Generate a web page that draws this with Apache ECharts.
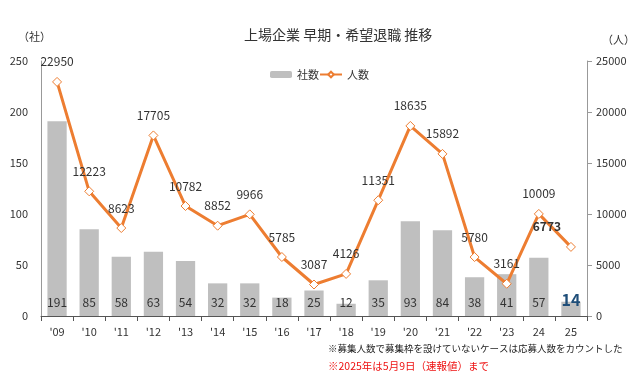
<!DOCTYPE html>
<html>
<head>
<meta charset="utf-8">
<script src="https://cdn.jsdelivr.net/npm/echarts@6/dist/echarts.min.js"></script>
<style>
  html, body { margin: 0; padding: 0; background: #fff; }
  #chart { width: 637px; height: 378px; }
</style>
</head>
<body>
<div id="chart"></div>
<script>
const years = ["'09", "'10", "'11", "'12", "'13", "'14", "'15", "'16", "'17", "'18", "'19", "'20", "'21", "'22", "'23", '24', '25']
const companies = [191, 85, 58, 63, 54, 32, 32, 18, 25, 12, 35, 93, 84, 38, 41, 57, 14]
const people = [22950, 12223, 8623, 17705, 10782, 8852, 9966, 5785, 3087, 4126, 11351, 18635, 15892, 5780, 3161, 10009, 6773]

const font = '"Noto Sans CJK JP", "Noto Sans", sans-serif'
const lastIdx = years.length - 1

const chart = echarts.init(document.getElementById('chart'))

chart.setOption({
  animation: false,
  textStyle: { fontFamily: font },
  title: {
    text: '上場企業 早期・希望退職 推移',
    left: 244,
    top: 28,
    padding: 0,
    textStyle: { fontSize: 14, fontWeight: 'normal', color: '#333', fontFamily: font }
  },
  legend: {
    top: 64,
    left: 265,
    itemWidth: 22,
    itemHeight: 7,
    itemGap: 0,
    textStyle: { fontSize: 11, color: '#333' },
    data: ['社数', '人数']
  },
  grid: { left: 41, right: 50, top: 61, bottom: 62 },
  graphic: [
    { type: 'text', left: 18, top: 31, style: { text: '（社）', fontSize: 11, fill: '#333', fontFamily: font } },
    { type: 'text', left: 602, top: 34, style: { text: '（人）', fontSize: 11, fill: '#333', fontFamily: font } },
    { type: 'text', left: 328, top: 344, style: { text: '※募集人数で募集枠を設けていないケースは応募人数をカウントした', fontSize: 9.5, fill: '#222', fontFamily: font } },
    { type: 'text', left: 328, top: 361, style: { text: '※2025年は5月9日（速報値）まで', fontSize: 10.5, fill: '#ee1111', fontFamily: font } }
  ],
  xAxis: {
    type: 'category',
    data: years,
    axisLine: { lineStyle: { color: '#555' } },
    axisTick: { show: true, length: 5, lineStyle: { color: '#555' } },
    axisLabel: { color: '#333', fontSize: 11, margin: 10 }
  },
  yAxis: [{
    type: 'value',
    min: 0,
    max: 250,
    interval: 50,
    axisLine: { show: true, lineStyle: { color: '#999' } },
    axisTick: { show: false },
    splitLine: { show: false },
    axisLabel: { color: '#333', fontSize: 11, margin: 13 }
  }, {
    type: 'value',
    min: 0,
    max: 25000,
    interval: 5000,
    axisLine: { show: true, lineStyle: { color: '#999' } },
    axisTick: { show: true, length: 5, lineStyle: { color: '#999' } },
    splitLine: { show: false },
    axisLabel: { color: '#333', fontSize: 11, margin: 9, formatter: v => String(v) }
  }],
  series: [{
    name: '社数',
    type: 'bar',
    yAxisIndex: 0,
    barWidth: '60%',
    itemStyle: { color: '#bfbfbf' },
    data: companies,
    label: {
      show: true,
      position: 'insideBottom',
      distance: 8,
      fontSize: 12,
      color: '#333',
      formatter: p => p.dataIndex === lastIdx ? '{b|' + p.value + '}' : p.value,
      rich: { b: { fontSize: 16, fontWeight: 'bold', color: '#1f4e79' } }
    }
  }, {
    name: '人数',
    type: 'line',
    yAxisIndex: 1,
    z: 5,
    symbol: 'diamond',
    symbolSize: 9,
    lineStyle: { color: '#ed7d31', width: 3 },
    itemStyle: { color: '#fff', borderColor: '#ed7d31', borderWidth: 1 },
    data: people.map((v, i) => i === lastIdx ? {
      value: v,
      label: { fontWeight: 'bold', offset: [-24, 0] }
    } : v),
    label: {
      show: true,
      position: 'top',
      distance: 9,
      fontSize: 12,
      color: '#333'
    }
  }]
})

window.addEventListener('resize', () => chart.resize())
</script>
</body>
</html>
